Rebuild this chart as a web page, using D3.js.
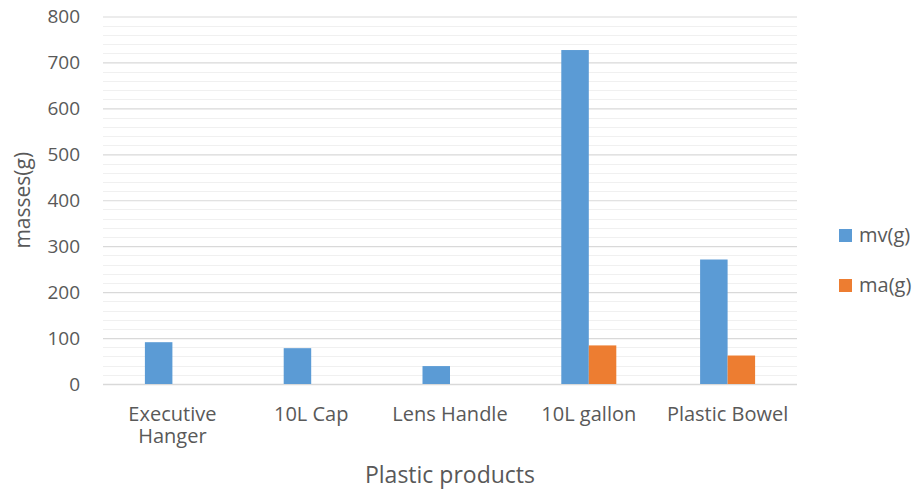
<!DOCTYPE html>
<html>
<head>
<meta charset="utf-8">
<script src="https://cdn.jsdelivr.net/npm/d3@7/dist/d3.min.js"></script>
<style>
  html, body { margin: 0; padding: 0; background: #fff; }
  svg { display: block; }
  text { font-family: "Open Sans", "Noto Sans", sans-serif; fill: #595959; }
</style>
</head>
<body>
<svg id="chart" width="916" height="493"></svg>
<script>
// Masses of plastic products (grams)
const categories = [["Executive", "Hanger"], ["10L Cap"], ["Lens Handle"], ["10L gallon"], ["Plastic Bowel"]];
const seriesNames = ["mv(g)", "ma(g)"];
const mvValues = [91, 78, 39, 727, 271];
const maValues = [0, 0, 0, 84, 62];
const yTicks = [0, 100, 200, 300, 400, 500, 600, 700, 800];
const colors = ["#5B9BD5", "#ED7D31"];

const svg = d3.select("#chart");
const plot = { left: 103, right: 797, top: 16.5, bottom: 384 };

const x0 = d3.scaleBand()
  .domain(d3.range(categories.length))
  .range([plot.left, plot.right])
  .paddingInner(0).paddingOuter(0);

const groupWidth = 55;
const x1 = d3.scaleBand()
  .domain(seriesNames)
  .range([0, groupWidth])
  .padding(0);

const y = d3.scaleLinear().domain([0, 800]).range([plot.bottom, plot.top]);

// minor gridlines every 20
const minor = d3.range(20, 800, 20).filter(v => v % 100 !== 0);
svg.append("g").selectAll("line").data(minor).join("line")
  .attr("x1", plot.left).attr("x2", plot.right)
  .attr("y1", d => Math.round(y(d)) + 0.5).attr("y2", d => Math.round(y(d)) + 0.5)
  .attr("stroke", "#f0f0f0").attr("stroke-width", 1);

// major gridlines with tick labels via axis
const yAxis = d3.axisLeft(y).tickValues(yTicks)
  .tickSize(-(plot.right - plot.left)).tickPadding(23);
const gy = svg.append("g").attr("transform", `translate(${plot.left},0)`).call(yAxis);
gy.select(".domain").remove();
gy.selectAll(".tick line").attr("stroke", "#d9d9d9").attr("stroke-width", 1.2);
gy.selectAll(".tick text")
  .style("font-size", "19px").style("font-family", "'Open Sans', sans-serif")
  .attr("fill", "#595959").attr("dy", "0.34em");

// category axis baseline
svg.append("line")
  .attr("x1", plot.left).attr("x2", plot.right)
  .attr("y1", plot.bottom + 0.5).attr("y2", plot.bottom + 0.5)
  .attr("stroke", "#d9d9d9").attr("stroke-width", 1.5);

// bars
const rows = categories.map((c, i) => ({ i, vals: [mvValues[i], maValues[i]] }));
const groups = svg.append("g").selectAll("g").data(rows).join("g")
  .attr("transform", d => `translate(${x0(d.i) + x0.bandwidth() / 2 - groupWidth / 2},0)`);
groups.selectAll("rect")
  .data(d => d.vals.map((v, k) => ({ v, k })).filter(e => e.v > 0))
  .join("rect")
  .attr("x", d => x1(seriesNames[d.k]))
  .attr("width", x1.bandwidth())
  .attr("y", d => y(d.v))
  .attr("height", d => y(0) - y(d.v))
  .attr("fill", d => colors[d.k]);

// category labels (one text per line)
const catG = svg.append("g");
categories.forEach((lines, i) => {
  lines.forEach((ln, j) => {
    catG.append("text")
      .attr("x", x0(i) + x0.bandwidth() / 2)
      .attr("y", 421 + j * 22)
      .attr("text-anchor", "middle")
      .style("font-size", "20px")
      .text(ln);
  });
});

// axis titles
svg.append("text")
  .attr("x", (plot.left + plot.right) / 2).attr("y", 483)
  .attr("text-anchor", "middle").style("font-size", "23px")
  .text("Plastic products");

svg.append("text")
  .attr("transform", `translate(30,${(plot.top + plot.bottom) / 2}) rotate(-90)`)
  .attr("text-anchor", "middle").style("font-size", "21px")
  .text("masses(g)");

// legend
const legend = svg.append("g").selectAll("g").data(seriesNames).join("g")
  .attr("transform", (d, i) => `translate(839,${229 + i * 50})`);
legend.append("rect").attr("width", 13).attr("height", 13)
  .attr("fill", (d, i) => colors[i]);
legend.append("text").attr("x", 20).attr("y", 13)
  .style("font-size", "20px").text(d => d);
</script>
</body>
</html>
